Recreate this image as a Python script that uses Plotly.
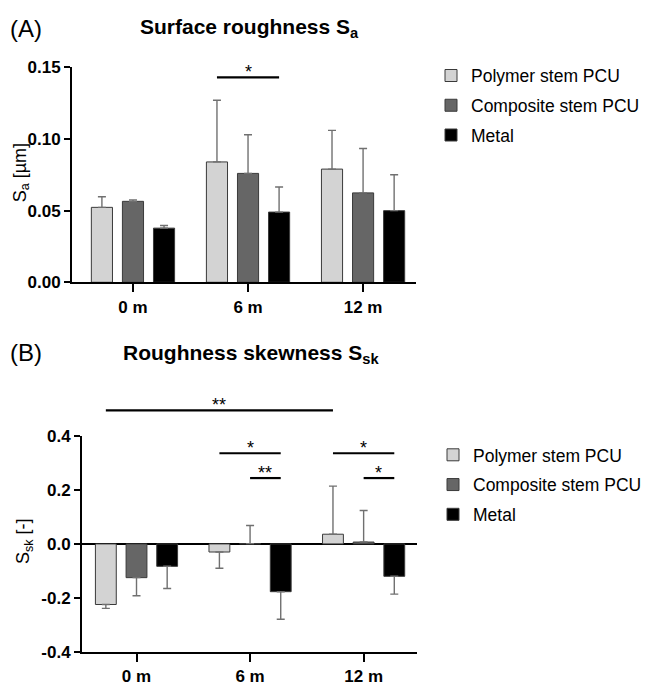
import plotly.graph_objects as go

# ---------------- data ----------------
categories = ["0 m", "6 m", "12 m"]
series_names = ["Polymer stem PCU", "Composite stem PCU", "Metal"]

# Panel A: surface roughness Sa [µm]
sa_polymer = [0.0523, 0.084, 0.079]
sa_composite = [0.0565, 0.076, 0.0624]
sa_metal = [0.0378, 0.049, 0.050]
sa_polymer_err = [0.0074, 0.043, 0.027]
sa_composite_err = [0.001, 0.027, 0.031]
sa_metal_err = [0.0018, 0.0175, 0.025]

# Panel B: roughness skewness Ssk [-]
ssk_polymer = [-0.2245, -0.030, 0.036]
ssk_composite = [-0.125, 0.001, 0.007]
ssk_metal = [-0.083, -0.177, -0.120]
ssk_polymer_err = [0.0145, 0.060, 0.178]
ssk_composite_err = [0.067, 0.067, 0.117]
ssk_metal_err = [0.082, 0.102, 0.066]

sa_ticks = [0.00, 0.05, 0.10, 0.15]
sa_ticklabels = ["0.00", "0.05", "0.10", "0.15"]
ssk_ticks = [-0.4, -0.2, 0.0, 0.2, 0.4]
ssk_ticklabels = ["-0.4", "-0.2", "0.0", "0.2", "0.4"]

# significance brackets: (cat_from, series_from, cat_to, series_to, y, label)
sig_a = [(1, 0, 1, 2, 0.143, "*")]
sig_b = [
    (0, 0, 2, 0, 0.495, "**"),
    (1, 0, 1, 2, 0.336, "*"),
    (1, 1, 1, 2, 0.244, "**"),
    (2, 0, 2, 2, 0.336, "*"),
    (2, 1, 2, 2, 0.244, "*"),
]

# ---------------- style ----------------
FONT = "Arial, Liberation Sans, sans-serif"
fills = ["#d3d3d3", "#666666", "#000000"]
outline = "#3a3a3a"
errcolor = "#707070"
BARGAP = 0.19
BARGROUPGAP = 0.32
W, H = 649, 693
SA_RANGE = [0, 0.15]
SSK_RANGE = [-0.4, 0.4]


def err_dict(vals, errs):
    up = [e if v >= 0 else 0 for v, e in zip(vals, errs)]
    dn = [0 if v >= 0 else e for v, e in zip(vals, errs)]
    return dict(type="data", symmetric=False, array=up, arrayminus=dn,
                color=errcolor, thickness=1.4, width=4)


fig = go.Figure()

panelA = [(sa_polymer, sa_polymer_err), (sa_composite, sa_composite_err), (sa_metal, sa_metal_err)]
panelB = [(ssk_polymer, ssk_polymer_err), (ssk_composite, ssk_composite_err), (ssk_metal, ssk_metal_err)]

for i, (vals, errs) in enumerate(panelA):
    fig.add_trace(go.Bar(
        x=categories, y=vals, name=series_names[i], xaxis="x", yaxis="y",
        marker=dict(color=fills[i], line=dict(color=outline, width=1)),
        error_y=err_dict(vals, errs), legend="legend", legendgroup="a%d" % i,
    ))
for i, (vals, errs) in enumerate(panelB):
    fig.add_trace(go.Bar(
        x=categories, y=vals, name=series_names[i], xaxis="x2", yaxis="y2",
        marker=dict(color=fills[i], line=dict(color=outline, width=1)),
        error_y=err_dict(vals, errs), legend="legend2", legendgroup="b%d" % i,
    ))

slot = (1 - BARGAP) / 3.0


def bar_center(cat, ser):
    return cat + (ser - 1) * slot


annotations = []
shapes = []


def add_brackets(sigs, xr, yr, yrange):
    lo, hi = yrange
    for c0, s0, c1, s1, yv, lab in sigs:
        x0, x1 = bar_center(c0, s0), bar_center(c1, s1)
        yd = (yv - lo) / (hi - lo)  # position on the axis domain (may lie above the plot)
        shapes.append(dict(type="line", xref=xr, yref=yr + " domain", x0=x0, x1=x1, y0=yd, y1=yd,
                           line=dict(color="black", width=2.2)))
        annotations.append(dict(
            x=(x0 + x1) / 2, y=yd, xref=xr, yref=yr + " domain", text=lab, showarrow=False,
            xanchor="center", yanchor="middle", yshift=5,
            font=dict(family=FONT, size=18, color="black")))


add_brackets(sig_a, "x", "y", SA_RANGE)
add_brackets(sig_b, "x2", "y2", SSK_RANGE)

# titles and panel labels
annotations += [
    dict(x=249 / W, y=1 - 20 / H, xref="paper", yref="paper", showarrow=False,
         xanchor="center", yanchor="middle",
         text="<b>Surface roughness S<sub>a</sub></b>", font=dict(family=FONT, size=21, color="black")),
    dict(x=251 / W, y=1 - 355 / H, xref="paper", yref="paper", showarrow=False,
         xanchor="center", yanchor="middle",
         text="<b>Roughness skewness S<sub>sk</sub></b>", font=dict(family=FONT, size=21, color="black")),
    dict(x=8 / W, y=1 - 20 / H, xref="paper", yref="paper", showarrow=False,
         xanchor="left", yanchor="middle",
         text="(A)", font=dict(family=FONT, size=24, color="black")),
    dict(x=8 / W, y=1 - 353 / H, xref="paper", yref="paper", showarrow=False,
         xanchor="left", yanchor="middle",
         text="(B)", font=dict(family=FONT, size=24, color="black")),
    dict(x=21 / W, y=1 - 169 / H, xref="paper", yref="paper", showarrow=False, textangle=-90,
         xanchor="center", yanchor="middle",
         text="S<sub>a</sub> [µm]", font=dict(family=FONT, size=18, color="black")),
    dict(x=24 / W, y=1 - 547 / H, xref="paper", yref="paper", showarrow=False, textangle=-90,
         xanchor="center", yanchor="middle",
         text="S<sub>sk</sub> [-]", font=dict(family=FONT, size=18, color="black")),
]

tickfont = dict(family=FONT, size=17, color="black", weight="bold")
axis_common = dict(showline=True, linecolor="black", linewidth=2, ticks="outside",
                   tickwidth=2, tickcolor="black", showgrid=False, tickfont=tickfont)

legend_common = dict(font=dict(family=FONT, size=17.5, color="black"), bgcolor="rgba(0,0,0,0)",
                     traceorder="grouped", tracegroupgap=4, xanchor="left", yanchor="top",
                     itemclick=False)

fig.update_layout(
    width=W, height=H, margin=dict(l=0, r=0, t=0, b=0),
    paper_bgcolor="white", plot_bgcolor="white",
    barmode="group", bargap=BARGAP, bargroupgap=BARGROUPGAP,
    font=dict(family=FONT, color="black"),
    xaxis=dict(domain=[72 / W, 416 / W], range=[-0.53, 2.46], anchor="y", ticklen=8, **axis_common),
    yaxis=dict(domain=[1 - 281 / H, 1 - 60 / H], range=SA_RANGE, anchor="x", ticklen=6,
               tickvals=sa_ticks, ticktext=sa_ticklabels, zeroline=False, **axis_common),
    xaxis2=dict(domain=[82 / W, 417 / W], range=[-0.48, 2.47], anchor="y2", ticklen=8, **axis_common),
    yaxis2=dict(domain=[1 - 661 / H, 1 - 439 / H], range=SSK_RANGE, anchor="x2", ticklen=6,
                tickvals=ssk_ticks, ticktext=ssk_ticklabels, zeroline=True, zerolinecolor="black",
                zerolinewidth=2, **axis_common),
    legend=dict(x=431 / W, y=1 - 50 / H, **legend_common),
    legend2=dict(x=433 / W, y=1 - 440 / H, **legend_common),
    annotations=annotations,
    shapes=shapes,
    showlegend=True,
)

fig.write_html("out.html")
